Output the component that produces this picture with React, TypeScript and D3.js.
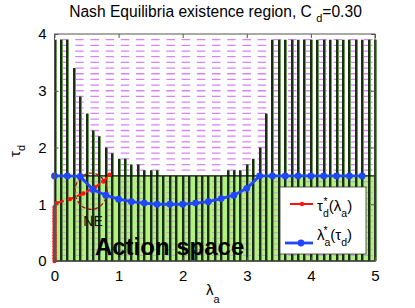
import * as d3 from 'd3';
import { useRef, useEffect } from 'react';

// lambda_a grid of the scan (one stem per value)
const lambdaGrid = [
  0, 0.1, 0.2, 0.3, 0.4, 0.5, 0.6, 0.7, 0.8, 0.9,
  1.0, 1.1, 1.2, 1.3, 1.4, 1.5, 1.6, 1.7, 1.8, 1.9,
  2.0, 2.1, 2.2, 2.3, 2.4, 2.5, 2.6, 2.7, 2.8, 2.9,
  3.0, 3.1, 3.2, 3.3, 3.4, 3.5, 3.6, 3.7, 3.8, 3.9,
  4.0, 4.1, 4.2, 4.3, 4.4, 4.5, 4.6, 4.7, 4.8, 4.9, 5.0
];
// height of every stem (tau_d)
const stemTops = [
  3.9, 3.9, 3.9, 3.4, 2.9, 2.6, 2.3, 2.2, 2.0, 1.9,
  1.8, 1.8, 1.7, 1.7, 1.6, 1.6, 1.6, 1.5, 1.5, 1.5,
  1.5, 1.5, 1.5, 1.5, 1.5, 1.5, 1.5, 1.6, 1.6, 1.6,
  1.7, 1.8, 2.0, 2.6, 3.9, 3.9, 3.9, 3.9, 3.9, 3.9,
  3.9, 3.9, 3.9, 3.9, 3.9, 3.9, 3.9, 3.9, 3.9, 3.9, 3.9
];
// tau_d rows (dashed)
const tauRows = [
  0.1, 0.2, 0.3, 0.4, 0.5, 0.6, 0.7, 0.8, 0.9, 1.0,
  1.1, 1.2, 1.3, 1.4, 1.5, 1.6, 1.7, 1.8, 1.9, 2.0,
  2.1, 2.2, 2.3, 2.4, 2.5, 2.6, 2.7, 2.8, 2.9, 3.0,
  3.1, 3.2, 3.3, 3.4, 3.5, 3.6, 3.7, 3.8, 3.9
];
const actionSpaceTop = 1.5;

// tau_d*(lambda_a)
const redLambda = [
  0, 0, 0, 0, 0, 0, 0, 0, 0, 0, 0, 0, 0, 0, 0, 0, 0, 0, 0, 0,
  0.03, 0.24, 0.45, 0.63, 0.76, 0.86
];
const redTau = [
  0, 0.05, 0.1, 0.15, 0.2, 0.25, 0.3, 0.35, 0.4, 0.45,
  0.5, 0.55, 0.6, 0.65, 0.7, 0.75, 0.8, 0.85, 0.9, 0.95,
  1.02, 1.09, 1.19, 1.30, 1.40, 1.52
];
// lambda_a*(tau_d)
const blueLambda = [
  0, 0.2, 0.4, 0.6, 0.8, 1.0, 1.2, 1.4, 1.6, 1.8, 2.0, 2.2, 2.4,
  2.6, 2.8, 3.0, 3.2, 3.4, 3.6, 3.8, 4.0, 4.2, 4.4, 4.6, 4.8
];
const blueTau = [
  1.5, 1.5, 1.49, 1.26, 1.16, 1.09, 1.045, 1.02, 1.0, 1.0, 1.0, 1.02, 1.045,
  1.1, 1.16, 1.28, 1.5, 1.5, 1.5, 1.5, 1.5, 1.5, 1.5, 1.5, 1.5
];

const xTicks = [0, 1, 2, 3, 4, 5];
const yTicks = [0, 1, 2, 3, 4];

// NE annotation (data units)
const neCenter = [0.57, 1.23];
const neRadius = [0.25, 0.32];

const FONT = "'Liberation Sans', Arial, Helvetica, sans-serif";

export default function App() {
  const ref = useRef(null);

  useEffect(() => {
    const width = 415;
    const height = 308;
    const svg = d3.select(ref.current);
    svg.selectAll('*').remove();
    svg.attr('width', width).attr('height', height);

    const x = d3.scaleLinear().domain([0, 5]).range([54.5, 375]);
    const y = d3.scaleLinear().domain([0, 4]).range([261, 34]);
    const g = svg.append('g').attr('font-family', FONT);

    // magenta rows above the action space
    g.selectAll('line.row')
      .data(tauRows.filter(t => t > actionSpaceTop))
      .enter().append('line')
      .attr('x1', x(0)).attr('x2', x(5))
      .attr('y1', d => y(d)).attr('y2', d => y(d))
      .attr('stroke', '#d783fa').attr('stroke-width', 1.3)
      .attr('stroke-dasharray', '8.5,6.7').attr('stroke-dashoffset', 9.7);

    // action space patch
    g.append('rect')
      .attr('x', x(0)).attr('y', y(actionSpaceTop))
      .attr('width', x(5) - x(0)).attr('height', y(0) - y(actionSpaceTop))
      .attr('fill', '#b4f07e');

    g.selectAll('line.rowin')
      .data(tauRows.filter(t => t < actionSpaceTop))
      .enter().append('line')
      .attr('x1', x(0)).attr('x2', x(5))
      .attr('y1', d => y(d)).attr('y2', d => y(d))
      .attr('stroke', '#c2a3d6').attr('stroke-width', 1.2)
      .attr('stroke-dasharray', '8.5,6.7').attr('stroke-dashoffset', 9.7);

    // stems (snapped to the pixel grid so they stay crisp)
    const stems = lambdaGrid.map((l, i) => ({ l, t: stemTops[i] }));
    const sx = d => Math.round(x(d.l));
    g.selectAll('line.stem2')
      .data(stems).enter().append('line')
      .attr('x1', d => sx(d) + 1.5).attr('x2', d => sx(d) + 1.5)
      .attr('y1', y(0)).attr('y2', d => y(d.t))
      .attr('stroke', '#6f965f').attr('stroke-width', 1);
    g.selectAll('line.stem')
      .data(stems).enter().append('line')
      .attr('x1', d => sx(d)).attr('x2', d => sx(d))
      .attr('y1', y(0)).attr('y2', d => y(d.t))
      .attr('stroke', '#17300d').attr('stroke-width', 2);

    // action space border
    g.append('rect')
      .attr('x', x(0)).attr('y', y(actionSpaceTop))
      .attr('width', x(5) - x(0)).attr('height', y(0) - y(actionSpaceTop))
      .attr('fill', 'none').attr('stroke', '#111').attr('stroke-width', 1.3);

    // NE ellipse
    g.append('ellipse')
      .attr('cx', x(neCenter[0])).attr('cy', y(neCenter[1]))
      .attr('rx', x(neRadius[0]) - x(0)).attr('ry', y(0) - y(neRadius[1]))
      .attr('fill', 'none').attr('stroke', '#a8141c').attr('stroke-width', 1.3)
      .attr('stroke-dasharray', '4,2.5');

    // red curve
    const red = redLambda.map((l, i) => [l, redTau[i]]);
    const line = d3.line().x(d => x(d[0])).y(d => y(d[1]));
    g.append('path').datum(red)
      .attr('d', line).attr('fill', 'none')
      .attr('stroke', '#ff1010').attr('stroke-width', 2.2)
      .attr('stroke-dasharray', '6,4');
    g.selectAll('circle.red').data(red).enter().append('circle')
      .attr('cx', d => x(d[0])).attr('cy', d => y(d[1])).attr('r', 2.2)
      .attr('fill', '#ff1010');

    // blue curve
    const blue = blueLambda.map((l, i) => [l, blueTau[i]]);
    g.append('path').datum(blue)
      .attr('d', line).attr('fill', 'none')
      .attr('stroke', '#2046ff').attr('stroke-width', 2.8);
    g.selectAll('circle.blue').data(blue).enter().append('circle')
      .attr('cx', d => x(d[0])).attr('cy', d => y(d[1])).attr('r', 3.4)
      .attr('fill', '#2046ff');

    // annotations
    g.append('text').attr('x', x(0.45)).attr('y', y(0.61))
      .attr('font-size', 14).attr('fill', '#111').text('NE');
    g.append('text').attr('x', x(0.63)).attr('y', y(0.11))
      .attr('font-size', 24).attr('font-weight', 'bold').attr('fill', '#000')
      .text('Action space');

    // axes box and inward ticks
    g.append('rect')
      .attr('x', x(0)).attr('y', y(4))
      .attr('width', x(5) - x(0)).attr('height', y(0) - y(4))
      .attr('fill', 'none').attr('stroke', '#555').attr('stroke-width', 1);
    const fmt = d3.format('d');
    g.append('g').attr('transform', `translate(0,${y(0)})`)
      .call(d3.axisBottom(x).tickValues(xTicks).tickFormat(fmt).tickSizeInner(-4).tickSizeOuter(0).tickPadding(9))
      .call(a => a.select('.domain').remove())
      .call(a => a.selectAll('line').attr('stroke', '#555'))
      .call(a => a.selectAll('text').attr('font-size', 15).attr('font-family', FONT).attr('fill', '#000'));
    g.append('g').attr('transform', `translate(0,${y(4)})`)
      .call(d3.axisTop(x).tickValues(xTicks).tickSizeInner(-4).tickSizeOuter(0).tickFormat(() => ''))
      .call(a => a.select('.domain').remove())
      .call(a => a.selectAll('line').attr('stroke', '#555'));
    g.append('g').attr('transform', `translate(${x(0)},0)`)
      .call(d3.axisLeft(y).tickValues(yTicks).tickFormat(fmt).tickSizeInner(-4).tickSizeOuter(0).tickPadding(8))
      .call(a => a.select('.domain').remove())
      .call(a => a.selectAll('line').attr('stroke', '#555'))
      .call(a => a.selectAll('text').attr('font-size', 15).attr('font-family', FONT).attr('fill', '#000'));
    g.append('g').attr('transform', `translate(${x(5)},0)`)
      .call(d3.axisRight(y).tickValues(yTicks).tickSizeInner(-4).tickSizeOuter(0).tickFormat(() => ''))
      .call(a => a.select('.domain').remove())
      .call(a => a.selectAll('line').attr('stroke', '#555'));

    // title
    const title = g.append('text').attr('x', 215.5).attr('y', 17)
      .attr('text-anchor', 'middle').attr('font-size', 15.6).attr('fill', '#000');
    title.append('tspan').text('Nash Equilibria existence region, C ');
    title.append('tspan').attr('font-size', 11).attr('dy', 5).text('d');
    title.append('tspan').attr('dy', -5).text('=0.30');

    // axis labels
    const xl = g.append('text').attr('x', 206).attr('y', 295).attr('font-size', 15);
    xl.append('tspan').text('λ');
    xl.append('tspan').attr('font-size', 11).attr('dy', 8).text('a');
    const yl = g.append('text').attr('transform', 'translate(20,157) rotate(-90)').attr('font-size', 15);
    yl.append('tspan').text('τ');
    yl.append('tspan').attr('font-size', 11).attr('dy', 5).text('d');

    // legend
    const lg = g.append('g');
    lg.append('rect').attr('x', 280).attr('y', 187).attr('width', 86).attr('height', 67)
      .attr('fill', '#fff').attr('stroke', '#333').attr('stroke-width', 0.8);
    lg.append('line').attr('x1', 290).attr('x2', 313).attr('y1', 204).attr('y2', 204)
      .attr('stroke', '#ff1010').attr('stroke-width', 2.2).attr('stroke-dasharray', '10,3');
    lg.append('circle').attr('cx', 302).attr('cy', 204).attr('r', 2.2).attr('fill', '#ff1010');
    lg.append('line').attr('x1', 285).attr('x2', 313).attr('y1', 243).attr('y2', 243)
      .attr('stroke', '#2046ff').attr('stroke-width', 2.8);
    lg.append('circle').attr('cx', 301).attr('cy', 243).attr('r', 3.4).attr('fill', '#2046ff');

    const entry = (ty, main, sub1, inner, sub2) => {
      const t = lg.append('text').attr('x', 317).attr('y', ty).attr('font-size', 15).attr('fill', '#000');
      t.append('tspan').text(main);
      t.append('tspan').attr('font-size', 10.5).attr('dy', 6).text(sub1);
      t.append('tspan').attr('dy', -6).text('(' + inner);
      t.append('tspan').attr('font-size', 10.5).attr('dy', 6).text(sub2);
      t.append('tspan').attr('dy', -6).text(')');
      lg.append('text').attr('x', 323.5).attr('y', ty - 6).attr('font-size', 10.5).text('*');
    };
    entry(211, 'τ', 'd', 'λ', 'a');
    entry(240, 'λ', 'a', 'τ', 'd');
  }, []);

  return (
    <svg ref={ref} style={{ position: 'absolute', left: 0, top: 0 }}></svg>
  );
}
